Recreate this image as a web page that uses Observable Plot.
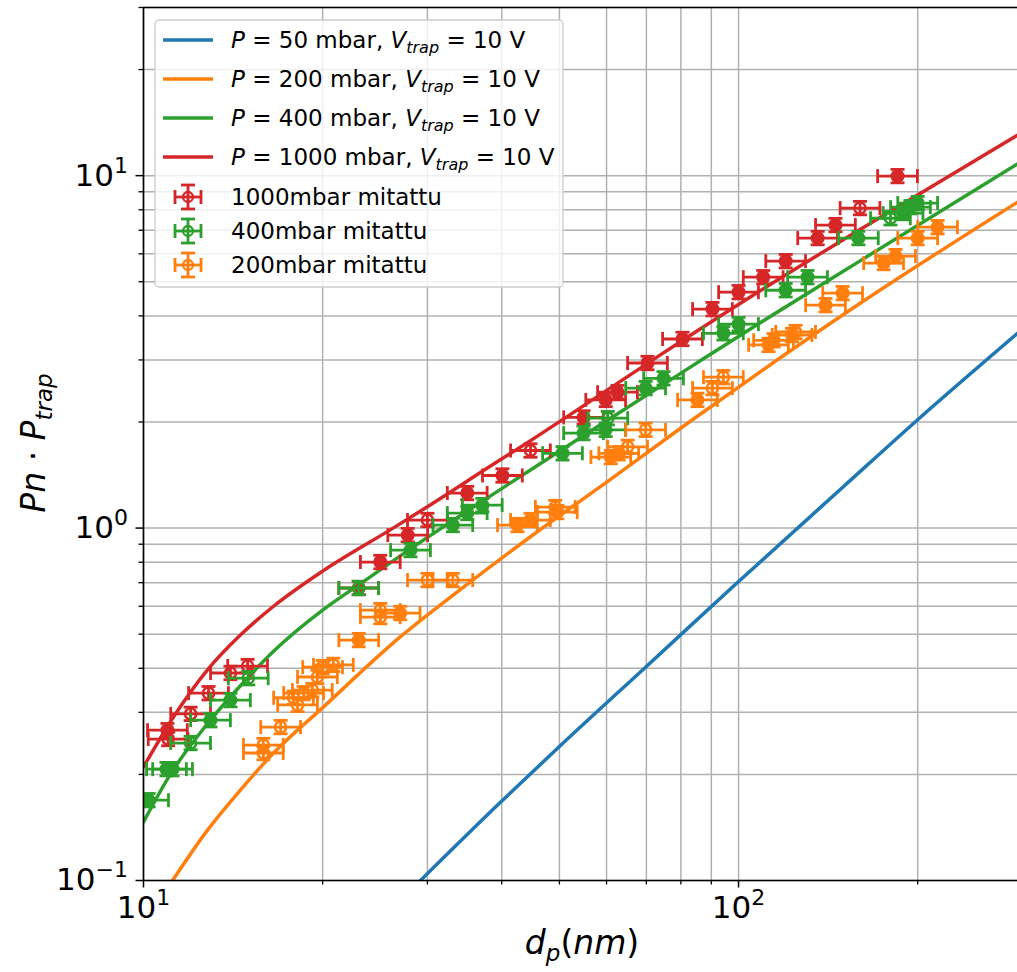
<!DOCTYPE html>
<html>
<head>
<meta charset="utf-8">
<script src="https://cdn.jsdelivr.net/npm/d3@7"></script>
<script src="https://cdn.jsdelivr.net/npm/@observablehq/plot@0.6"></script>
<style>
  html, body { margin: 0; padding: 0; background: #fff; }
  #chart { width: 1017px; height: 972px; overflow: hidden; }
</style>
</head>
<body>
<div id="chart"></div>
<script>
// ---- Model curves, Pn·Ptrap versus particle diameter dp (nm), Vtrap = 10 V ----
const model50X   = [29.2, 40, 50, 70, 100, 150, 200, 294.3];
const model50Y   = [0.100, 0.168, 0.240, 0.405, 0.705, 1.31, 2.03, 3.57];

const model200X  = [11.19, 12.81, 14.55, 16.54, 20.07, 27.0, 34.5, 44.7, 59.3, 84.0, 108.9, 160.3, 294.3];
const model200Y  = [0.100, 0.139, 0.1806, 0.230, 0.311, 0.491, 0.680, 0.945, 1.33, 2.04, 2.78, 4.35, 8.41];

const model400X  = [10, 11.1, 12.81, 14.55, 16.54, 20, 23, 28.1, 38.3, 44.7, 57.9, 84, 108.9, 160.3, 294.3];
const model400Y  = [0.1466, 0.2004, 0.2786, 0.357, 0.447, 0.585, 0.690, 0.873, 1.234, 1.462, 1.939, 2.90, 3.83, 5.74, 10.80];

const model1000X = [10, 11.23, 12.81, 14.55, 16.54, 20, 26.35, 30, 38.3, 44.7, 57.9, 73.9, 108.9, 160.3, 294.3];
const model1000Y = [0.210, 0.291, 0.396, 0.497, 0.600, 0.755, 1.003, 1.15, 1.50, 1.77, 2.36, 3.10, 4.72, 7.05, 13.03];

const modelPressures = [50, 200, 400, 1000];   // mbar
const trapVoltage = 10;                        // V

// ---- Measured points ("mitattu"); repeats = number of coinciding measurements ----
const meas1000X = [185, 160, 145.5, 135.8, 120, 110, 100, 90.4, 80.5, 70.3, 62.6, 59.8, 54.9, 44.7, 40.1, 35.0, 30.0, 27.8, 25.0, 23.0, 14.96, 14.0, 12.86, 12.0, 10.97, 11.0];
const meas1000Y = [9.97, 8.09, 7.24, 6.65, 5.72, 5.15, 4.67, 4.18, 3.44, 2.94, 2.43, 2.31, 2.06, 1.66, 1.41, 1.257, 1.054, 0.955, 0.801, 0.676, 0.406, 0.388, 0.340, 0.297, 0.267, 0.252];
const meas1000Repeats = [2,1,2,2,2,2,2,2,2,2,2,2,2,1,2,2,1,2,2,2,1,1,1,1,2,1];

const meas400X = [200, 194.5, 189, 180, 159, 130.6, 120, 100, 94.3, 74.8, 69.8, 60.3, 59.8, 54.9, 50.6, 37.1, 35.0, 33.1, 28.1, 23.0, 15.0, 14.0, 12.96, 12.0, 10.93, 11.19, 10.2];
const meas400Y = [8.36, 8.14, 7.83, 7.57, 6.65, 5.15, 4.73, 3.79, 3.57, 2.66, 2.495, 2.05, 1.90, 1.86, 1.63, 1.162, 1.103, 1.02, 0.866, 0.676, 0.375, 0.325, 0.285, 0.2455, 0.207, 0.207, 0.169];
const meas400Repeats = [2,2,2,1,2,2,2,2,2,2,2,1,2,2,2,2,2,2,2,1,1,2,2,1,2,2,2];

const meas200X = [216, 200, 183.6, 175.3, 149.6, 140, 124.7, 123, 114.5, 112.3, 94.3, 90.4, 85.3, 69.8, 65.1, 62.9, 61.0, 49.2, 49.6, 44.7, 42.5, 33.1, 30.0, 27.0, 25.0, 25.0, 23.0, 20.85, 20.0, 19.6, 19.22, 18.58, 18.15, 17.87, 17.0, 15.9, 15.9];
const meas200Y = [7.14, 6.65, 5.91, 5.65, 4.64, 4.29, 3.60, 3.53, 3.41, 3.31, 2.68, 2.495, 2.31, 1.90, 1.70, 1.63, 1.59, 1.147, 1.11, 1.054, 1.02, 0.712, 0.712, 0.574, 0.559, 0.585, 0.481, 0.409, 0.403, 0.378, 0.347, 0.340, 0.315, 0.330, 0.2725, 0.2423, 0.230];
const meas200Repeats = [2,2,2,2,2,2,1,2,2,2,1,1,2,1,1,2,2,1,2,2,2,1,1,2,1,1,2,1,1,1,1,1,1,1,1,1,1];

const measLabels = ["1000mbar mitattu", "400mbar mitattu", "200mbar mitattu"];

// relative measurement uncertainties (multiplicative)
const DP_ERR = 1.08;
const P_ERR = 1.045;

// ---- Axis ticks ----
const xMajor = [10, 100];
const xMinor = [20, 30, 40, 50, 60, 70, 80, 90, 200];
const yMajor = [0.1, 1, 10];
const yMinor = [0.2, 0.3, 0.4, 0.5, 0.6, 0.7, 0.8, 0.9, 2, 3, 4, 5, 6, 7, 8, 9, 20, 30];

const C = {blue: "#1f77b4", orange: "#ff7f0e", green: "#2ca02c", red: "#d62728"};
const modelColors = [C.blue, C.orange, C.green, C.red];
const measColors = [C.red, C.green, C.orange];

const zip = (xs, ys) => xs.map((x, i) => ({x, y: ys[i]}));
const models = [zip(model50X, model50Y), zip(model200X, model200Y), zip(model400X, model400Y), zip(model1000X, model1000Y)];
const measured = [
  meas1000X.map((x, i) => ({x, y: meas1000Y[i], n: meas1000Repeats[i]})),
  meas400X.map((x, i) => ({x, y: meas400Y[i], n: meas400Repeats[i]})),
  meas200X.map((x, i) => ({x, y: meas200Y[i], n: meas200Repeats[i]}))
];

// error bar caps as custom symbols
const vCap = {draw(ctx, size) { const r = Math.sqrt(size / Math.PI); ctx.moveTo(0, -r); ctx.lineTo(0, r); }};
const hCap = {draw(ctx, size) { const r = Math.sqrt(size / Math.PI); ctx.moveTo(-r, 0); ctx.lineTo(r, 0); }};

const EW = 2.8, CAP = 7;
function errorbarMarks(data, color) {
  const common = {stroke: color, strokeWidth: EW, clip: true};
  return [
    Plot.link(data, {x1: d => d.x / DP_ERR, x2: d => d.x * DP_ERR, y1: "y", y2: "y", ...common}),
    Plot.link(data, {x1: "x", x2: "x", y1: d => d.y / P_ERR, y2: d => d.y * P_ERR, ...common}),
    Plot.dot(data, {x: d => d.x / DP_ERR, y: "y", symbol: vCap, r: CAP, fill: "none", ...common}),
    Plot.dot(data, {x: d => d.x * DP_ERR, y: "y", symbol: vCap, r: CAP, fill: "none", ...common}),
    Plot.dot(data, {x: "x", y: d => d.y / P_ERR, symbol: hCap, r: CAP, fill: "none", ...common}),
    Plot.dot(data, {x: "x", y: d => d.y * P_ERR, symbol: hCap, r: CAP, fill: "none", ...common}),
    Plot.dot(data.filter(d => d.n === 1), {x: "x", y: "y", r: 5.6, fill: "none", stroke: color, strokeWidth: 2.5, clip: true}),
    Plot.dot(data.filter(d => d.n > 1), {x: "x", y: "y", r: 7, fill: color, stroke: "none", clip: true})
  ];
}

const grid = {stroke: "#b0b0b0", strokeWidth: 1.5};
const expLabel = d => String(Math.round(Math.log10(d))).replace("-", "\u2212");

const chart = Plot.plot({
  width: 1017,
  height: 972,
  marginLeft: 143,
  marginRight: 0,
  marginTop: 7,
  marginBottom: 92,
  style: {fontFamily: "DejaVu Sans", fontSize: "31px", color: "black", background: "white"},
  x: {type: "log", domain: [10, 294.3]},
  y: {type: "log", domain: [0.1, 30]},
  marks: [
    Plot.ruleX([...xMajor, ...xMinor], grid),
    Plot.ruleY([...yMajor, ...yMinor], grid),
    ...models.map((m, i) => Plot.line(m, {x: "x", y: "y", stroke: modelColors[i], strokeWidth: 3.5, curve: "monotone-x", clip: true})),
    ...measured.flatMap((m, i) => errorbarMarks(m, measColors[i])),
    Plot.axisX({ticks: xMinor, tickSize: 4.5, tickFormat: () => "", strokeWidth: 1.3, label: null}),
    Plot.axisX({ticks: xMajor, tickSize: 7.5, tickPadding: 8, strokeWidth: 1.5, tickFormat: expLabel, label: null}),
    Plot.axisY({ticks: yMinor, tickSize: 4.5, tickFormat: () => "", strokeWidth: 1.3, label: null}),
    Plot.axisY({ticks: yMajor, tickSize: 7.5, tickPadding: 8, strokeWidth: 1.5, tickFormat: expLabel, label: null}),
    Plot.ruleX([10], {stroke: "black", strokeWidth: 1.6}),
    Plot.ruleY([0.1], {stroke: "black", strokeWidth: 1.6}),
    Plot.ruleY([30], {stroke: "black", strokeWidth: 1.6})
  ]
});

document.getElementById("chart").appendChild(chart);
const svg = d3.select(chart);

// decade tick labels as 10 with a raised exponent
svg.selectAll('g[aria-label="x-axis tick label"] text, g[aria-label="y-axis tick label"] text').each(function () {
  const t = d3.select(this);
  const e = t.text().trim();
  if (!e) return;
  t.text("");
  t.append("tspan").text("10");
  t.append("tspan").attr("font-size", "22px").attr("dy", "-13").text(e);
});

// axis titles
const xl = svg.append("text")
  .attr("x", 582).attr("y", 954)
  .attr("text-anchor", "middle")
  .attr("font-size", 33);
xl.append("tspan").attr("font-style", "italic").text("d");
xl.append("tspan").attr("font-style", "italic").attr("font-size", 23).attr("dy", 7).text("p");
xl.append("tspan").attr("dy", -7).text("(");
xl.append("tspan").attr("font-style", "italic").text("nm");
xl.append("tspan").text(")");

const yl = svg.append("text")
  .attr("transform", "translate(45,443) rotate(-90)")
  .attr("text-anchor", "middle")
  .attr("font-size", 33);
yl.append("tspan").attr("font-style", "italic").text("Pn");
yl.append("tspan").text(" \u00b7 ");
yl.append("tspan").attr("font-style", "italic").text("P");
yl.append("tspan").attr("font-style", "italic").attr("font-size", 23).attr("dy", 7).text("trap");

// legend
const lg = svg.append("g").attr("font-size", 23).attr("text-anchor", "start");
lg.append("rect")
  .attr("x", 155).attr("y", 20).attr("width", 408).attr("height", 267).attr("rx", 4)
  .attr("fill", "white").attr("fill-opacity", 0.8)
  .attr("stroke", "#cccccc").attr("stroke-width", 1.3);

const lineRows = [40, 79, 118, 157];
modelPressures.forEach((p, i) => {
  const y = lineRows[i];
  lg.append("line").attr("x1", 163).attr("x2", 213).attr("y1", y).attr("y2", y)
    .attr("stroke", modelColors[i]).attr("stroke-width", 3.5);
  const t = lg.append("text").attr("x", 231).attr("y", y + 8).attr("text-anchor", "start");
  t.append("tspan").attr("font-style", "italic").text("P");
  t.append("tspan").text(` = ${p} mbar, `);
  t.append("tspan").attr("font-style", "italic").text("V");
  t.append("tspan").attr("font-style", "italic").attr("font-size", 16).attr("dy", 5).text("trap");
  t.append("tspan").attr("dy", -5).text(` = ${trapVoltage} V`);
});

const markRows = [197, 231, 265];
measLabels.forEach((label, i) => {
  const y = markRows[i], cx = 188, c = measColors[i];
  const g = lg.append("g").attr("stroke", c).attr("stroke-width", EW).attr("fill", "none");
  g.append("line").attr("x1", cx - 13).attr("x2", cx + 13).attr("y1", y).attr("y2", y);
  g.append("line").attr("x1", cx).attr("x2", cx).attr("y1", y - 12).attr("y2", y + 12);
  g.append("line").attr("x1", cx - 13).attr("x2", cx - 13).attr("y1", y - CAP).attr("y2", y + CAP);
  g.append("line").attr("x1", cx + 13).attr("x2", cx + 13).attr("y1", y - CAP).attr("y2", y + CAP);
  g.append("line").attr("x1", cx - CAP).attr("x2", cx + CAP).attr("y1", y - 12).attr("y2", y - 12);
  g.append("line").attr("x1", cx - CAP).attr("x2", cx + CAP).attr("y1", y + 12).attr("y2", y + 12);
  g.append("circle").attr("cx", cx).attr("cy", y).attr("r", 5).attr("stroke-width", 2.3);
  lg.append("text").attr("x", 231).attr("y", y + 8).attr("text-anchor", "start").text(label);
});
</script>
</body>
</html>
